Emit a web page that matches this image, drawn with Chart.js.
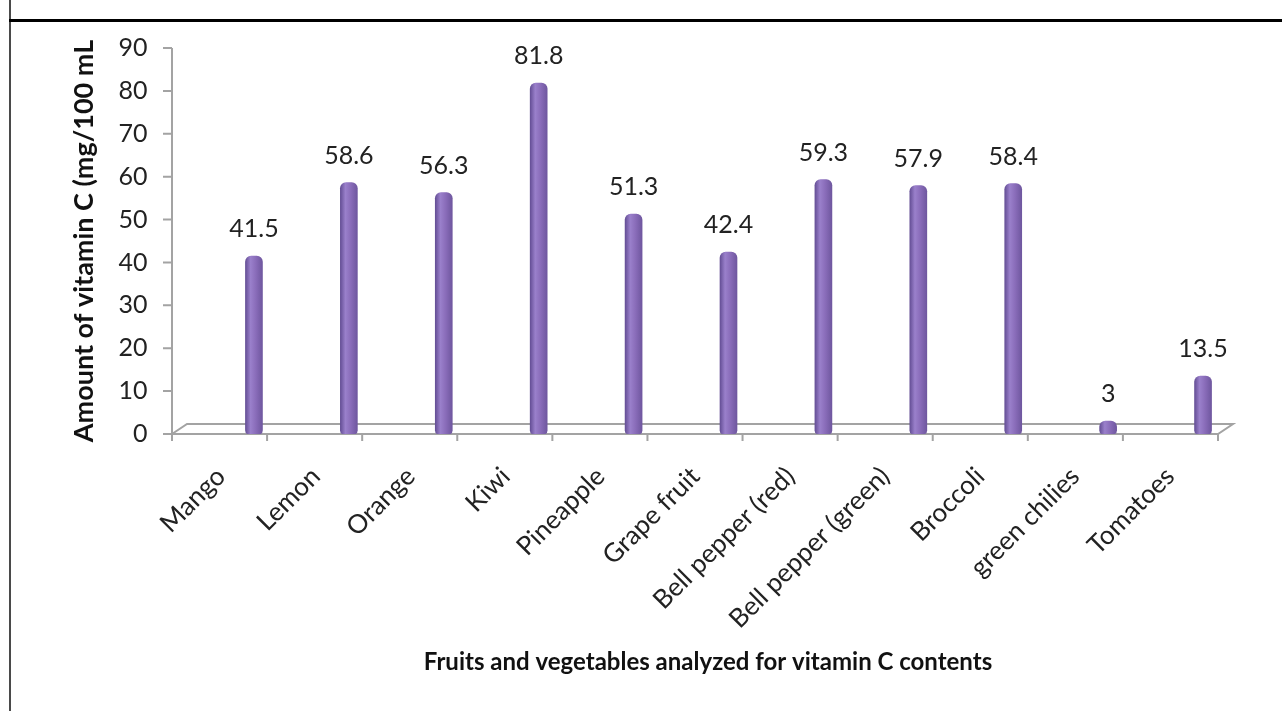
<!DOCTYPE html>
<html>
<head>
<meta charset="utf-8">
<script src="https://cdn.jsdelivr.net/npm/chart.js@4/dist/chart.umd.min.js"></script>
<style>
  html, body { margin: 0; padding: 0; background: #fff; }
  #wrap { position: relative; width: 1282px; height: 711px; overflow: hidden; }
  #chart { position: absolute; left: 0; top: 0; }
  .frame-left { position: absolute; left: 9px; top: 0; width: 2px; height: 711px; background: #4a4a4a; }
  .frame-top { position: absolute; left: 9px; top: 19px; right: 0; height: 3px; background: #000; }
</style>
</head>
<body>
<div id="wrap">
  <canvas id="chart" width="1282" height="711"></canvas>
  <div class="frame-left"></div>
  <div class="frame-top"></div>
</div>
<script>
// values
const categories = ['Mango', 'Lemon', 'Orange', 'Kiwi', 'Pineapple', 'Grape fruit',
  'Bell pepper (red)', 'Bell pepper (green)', 'Broccoli', 'green chilies', 'Tomatoes'];
const vitaminC = [41.5, 58.6, 56.3, 81.8, 51.3, 42.4, 59.3, 57.9, 58.4, 3, 13.5];
const yMin = 0, yMax = 90, yStep = 10;
const xTitle = 'Fruits and vegetables analyzed for vitamin C contents';
const yTitle = 'Amount of vitamin C (mg/100 mL';

const FONT = 'Lato';
const tickFont = { family: FONT, size: 25 };
const xTickFont = { family: FONT, size: 26 };
const yTitleFont = { family: FONT, size: 27, weight: 'bold' };
const axisGray = '#a3a3a3';

// 3D-ish floor and front axes, placed from the scales
const floorPlugin = {
  id: 'floor3d',
  beforeDatasetsDraw(chart) {
    const { ctx } = chart;
    const xs = chart.scales.x, ys = chart.scales.y;
    const y0 = ys.getPixelForValue(0);
    const fl = xs.left - 34.5, fr = xs.right - 32.5;
    const dx = 15, dy = -10;
    const step = (fr - fl) / categories.length;
    ctx.save();
    ctx.strokeStyle = axisGray;
    ctx.lineWidth = 2;
    ctx.beginPath();
    // y axis + ticks
    ctx.moveTo(fl, ys.top);
    ctx.lineTo(fl, y0);
    ys.ticks.forEach(t => {
      const py = ys.getPixelForValue(t.value);
      ctx.moveTo(fl - 9, py);
      ctx.lineTo(fl, py);
    });
    // floor
    ctx.moveTo(fl, y0);
    ctx.lineTo(fr, y0);
    ctx.lineTo(fr + dx, y0 + dy);
    ctx.lineTo(fl + dx, y0 + dy);
    ctx.lineTo(fl, y0);
    // x ticks
    for (let k = 0; k <= categories.length; k++) {
      const px = fl + k * step;
      ctx.moveTo(px, y0);
      ctx.lineTo(px, y0 + 7);
    }
    ctx.stroke();

    // x axis title, centred a bit left like the original
    ctx.font = `bold 24px ${FONT}`;
    ctx.fillStyle = '#111';
    ctx.textAlign = 'center';
    ctx.textBaseline = 'middle';
    ctx.fillText(xTitle, (fl + fr) / 2 + 13, 662);
    ctx.restore();
  },
  afterDatasetsDraw(chart) {
    const { ctx } = chart;
    const meta = chart.getDatasetMeta(0);
    ctx.save();
    ctx.font = `${tickFont.size}px ${FONT}`;
    ctx.fillStyle = '#222';
    ctx.textAlign = 'center';
    ctx.textBaseline = 'middle';
    meta.data.forEach((bar, i) => {
      ctx.fillText(String(vitaminC[i]), bar.x, bar.y - 27);
    });
    ctx.restore();
  }
};

function barFill(c) {
  const chart = c.chart;
  const xs = chart.scales && chart.scales.x;
  if (!xs || c.dataIndex === undefined || !chart.chartArea) return '#8064a2';
  const px = xs.getPixelForValue(c.dataIndex);
  const g = chart.ctx.createLinearGradient(px - 8.5, 0, px + 8.5, 0);
  g.addColorStop(0, '#654f96');
  g.addColorStop(0.3, '#9a80cb');
  g.addColorStop(0.6, '#8a6dba');
  g.addColorStop(1, '#6f579f');
  return g;
}

new Chart(document.getElementById('chart'), {
  type: 'bar',
  data: {
    labels: categories,
    datasets: [{
      data: vitaminC,
      backgroundColor: barFill,
      barThickness: 17,
      borderSkipped: false,
      borderRadius: { topLeft: 6, topRight: 6, bottomLeft: 4, bottomRight: 4 }
    }]
  },
  options: {
    responsive: false,
    animation: false,
    devicePixelRatio: 1,
    layout: { padding: { left: 68, right: 31.5, top: 48, bottom: 36 } },
    plugins: { legend: { display: false }, tooltip: { enabled: false } },
    scales: {
      x: {
        grid: { display: false },
        border: { display: false },
        ticks: {
          autoSkip: false, minRotation: 45, maxRotation: 45,
          labelOffset: -33, padding: 19, font: xTickFont, color: '#222'
        },
        afterFit(scale) { scale.height = 711 - 36 - 434; }
      },
      y: {
        min: yMin, max: yMax,
        grid: { display: false },
        border: { display: false },
        ticks: { stepSize: yStep, padding: 51, font: tickFont, color: '#222' },
        title: {
          display: true, text: yTitle,
          font: yTitleFont, color: '#111', padding: 0
        },
        afterFit(scale) {
          scale.width = 206.5 - 68;
          scale.paddingTop = 0;
          scale.paddingBottom = 0;
        }
      }
    }
  },
  plugins: [floorPlugin]
});
</script>
</body>
</html>
